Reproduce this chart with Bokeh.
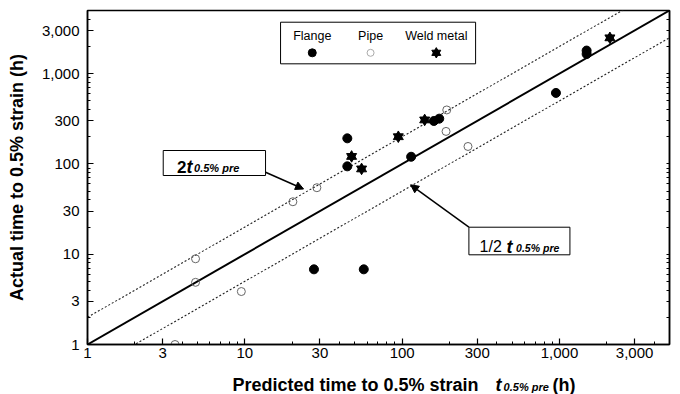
import numpy as np
from bokeh.plotting import figure
from bokeh.layouts import column
from bokeh.models import (FixedTicker, NumeralTickFormatter, LogAxis, Label,
                          Arrow, NormalHead, Range1d)
from bokeh.embed import file_html
from bokeh.resources import INLINE

# ---------------- data ----------------
flange_x = [44.8, 44.8, 114, 159, 172, 27.5, 57, 1487, 1487, 949]
flange_y = [192, 94, 120, 299, 317, 6.8, 6.8, 1800, 1650, 611]

pipe_x = [192, 190, 262, 28.7, 20.2, 4.86, 4.86, 9.5, 3.6]
pipe_y = [396, 229, 156, 54.5, 38.1, 8.9, 4.88, 3.86, 1.0]

weld_x = [139, 94.5, 47.7, 55.2, 2090]
weld_y = [307, 200, 121, 88, 2490]

tick_values = [1, 3, 10, 30, 100, 300, 1000, 3000]
series_names = ["Flange", "Pipe", "Weld metal"]
axis_min, axis_max = 1, 5000

FONT = "Liberation Sans"

# ------------- helpers for annotation placement (pixel -> data) -------------
X0, XD = 87.0, 157.3      # left frame pixel, pixels per decade (x)
Y0, YD = 344.0, 90.3      # bottom frame pixel, pixels per decade (y)


def fx(px):
    return 10 ** ((px - X0) / XD)


def fy(py):
    return 10 ** ((Y0 - py) / YD)


TOP_H = 366
p = figure(width=680, height=TOP_H, x_axis_type="log", y_axis_type="log",
           x_range=Range1d(axis_min, axis_max), y_range=Range1d(axis_min, axis_max),
           output_backend="svg", toolbar_location=None,
           min_border_left=87, min_border_right=11, min_border_top=10,
           min_border_bottom=TOP_H - 344, background_fill_color="white",
           border_fill_color="white")
p.grid.visible = False
p.outline_line_color = "black"
p.outline_line_width = 1.5

minor = [m * 10 ** k for k in range(4) for m in (2, 4, 5, 6, 7, 8, 9)]

for ax in (p.xaxis[0], p.yaxis[0]):
    ax.ticker = FixedTicker(ticks=tick_values, minor_ticks=minor)
    ax.formatter = NumeralTickFormatter(format="0,0")
    ax.major_tick_in = 6
    ax.major_tick_out = 0
    ax.minor_tick_in = 3
    ax.minor_tick_out = 0
    ax.axis_line_width = 1.5
    ax.major_tick_line_width = 1.2
    ax.major_label_text_font = FONT
    ax.major_label_text_font_size = "15px"
    ax.major_label_text_color = "black"
p.xaxis.major_label_standoff = 3
p.yaxis.major_label_standoff = 8

p.yaxis.axis_label = "Actual time to 0.5% strain (h)"
p.yaxis.axis_label_text_font = FONT
p.yaxis.axis_label_text_font_size = "18px"
p.yaxis.axis_label_text_font_style = "bold"
p.yaxis.axis_label_text_color = "black"
p.yaxis.axis_label_standoff = 12

# right-hand frame edge: tick marks only (no labels)
rax = LogAxis(ticker=FixedTicker(ticks=[], minor_ticks=tick_values + minor),
              major_tick_in=0, major_tick_out=0, minor_tick_in=3,
              minor_tick_out=0, axis_line_width=1.5)
p.add_layout(rax, "right")

# ---------------- reference lines ----------------
ref = np.array([axis_min, axis_max * 2], dtype=float)
p.line(ref, ref, line_color="black", line_width=2)
p.line(ref, 2 * ref, line_color="#222222", line_width=1.1, line_dash="2 2")
p.line(ref, 0.5 * ref, line_color="#222222", line_width=1.1, line_dash="2 2")

# ---------------- data marks ----------------
p.scatter(pipe_x, pipe_y, marker="circle", size=8, fill_color=None,
          line_color="#666666", line_width=1)
p.scatter(flange_x, flange_y, marker="circle", size=9, fill_color="black",
          line_color="black")
p.scatter(weld_x, weld_y, marker="triangle", size=10, fill_color="black",
          line_color="black")
p.scatter(weld_x, weld_y, marker="inverted_triangle", size=10,
          fill_color="black", line_color="black")

# ---------------- legend box ----------------
p.quad(left=[fx(280)], right=[fx(475)], top=[fy(21.7)], bottom=[fy(63.3)],
       fill_color="white", line_color="black", line_width=1)
leg_px = [311.7, 370, 435.7]
for name, lx in zip(series_names, leg_px):
    p.add_layout(Label(x=fx(lx), y=fy(35), text=name, text_align="center",
                       text_baseline="middle", text_font=FONT,
                       text_font_size="12.5px", text_color="black"))
p.scatter([fx(leg_px[0])], [fy(52.3)], marker="circle", size=8,
          fill_color="black", line_color="black")
p.scatter([fx(leg_px[1])], [fy(52.3)], marker="circle", size=7,
          fill_color=None, line_color="#aaaaaa", line_width=1)
p.scatter([fx(leg_px[2])], [fy(52.3)], marker="triangle", size=9,
          fill_color="black", line_color="black")
p.scatter([fx(leg_px[2])], [fy(52.3)], marker="inverted_triangle", size=9,
          fill_color="black", line_color="black")

# ---------------- annotation boxes ----------------
p.quad(left=[fx(162.7)], right=[fx(265)], top=[fy(150)], bottom=[fy(175)],
       fill_color="white", line_color="black", line_width=1)
p.quad(left=[fx(468.3)], right=[fx(569.3)], top=[fy(226.7)], bottom=[fy(254.3)],
       fill_color="white", line_color="black", line_width=1)


def lab(fig, x, y, text, size, style="normal", align="left",
        baseline="alphabetic"):
    fig.add_layout(Label(x=x, y=y, text=text, text_font=FONT,
                         text_font_size=size, text_font_style=style,
                         text_align=align, text_baseline=baseline,
                         text_color="black"))


lab(p, fx(176.5), fy(166), "2", "17px", "bold")
lab(p, fx(186), fy(166), "t", "18px", "bold italic")
lab(p, fx(193.5), fy(167.5), "0.5% pre", "11px", "bold italic")

lab(p, fx(479), fy(246), "1/2", "16px")
lab(p, fx(506), fy(246), "t", "18px", "bold italic")
lab(p, fx(515.5), fy(247.5), "0.5% pre", "10.5px", "bold italic")

head = dict(size=8, fill_color="black", line_color="black")
p.add_layout(Arrow(end=NormalHead(**head), x_start=fx(265), y_start=fy(171.7),
                   x_end=fx(303), y_end=fy(188.5), line_width=1.5))
p.add_layout(Arrow(end=NormalHead(**head), x_start=fx(468.3), y_start=fy(226.7),
                   x_end=fx(410), y_end=fy(184.3), line_width=1.5))

# ---------------- x-axis title strip (mixed styles) ----------------
BOT_H = 394 - TOP_H
q = figure(width=680, height=BOT_H, x_axis_type="log", x_range=p.x_range,
           y_range=Range1d(BOT_H, 0), output_backend="svg",
           toolbar_location=None, min_border=0, x_axis_location=None,
           y_axis_location=None, outline_line_color=None,
           background_fill_color="white", border_fill_color="white")
q.grid.visible = False
base = 388 - TOP_H - 4
lab(q, fx(232), base, "Predicted time to 0.5% strain", "18px", "bold")
lab(q, fx(495), base, "t", "18px", "bold italic")
lab(q, fx(503), base + 2.5, "0.5% pre", "11px", "bold italic")
lab(q, fx(552), base, "(h)", "18px", "bold")

layout = column(p, q, spacing=0)
open("out.html", "w").write(file_html(layout, INLINE))
